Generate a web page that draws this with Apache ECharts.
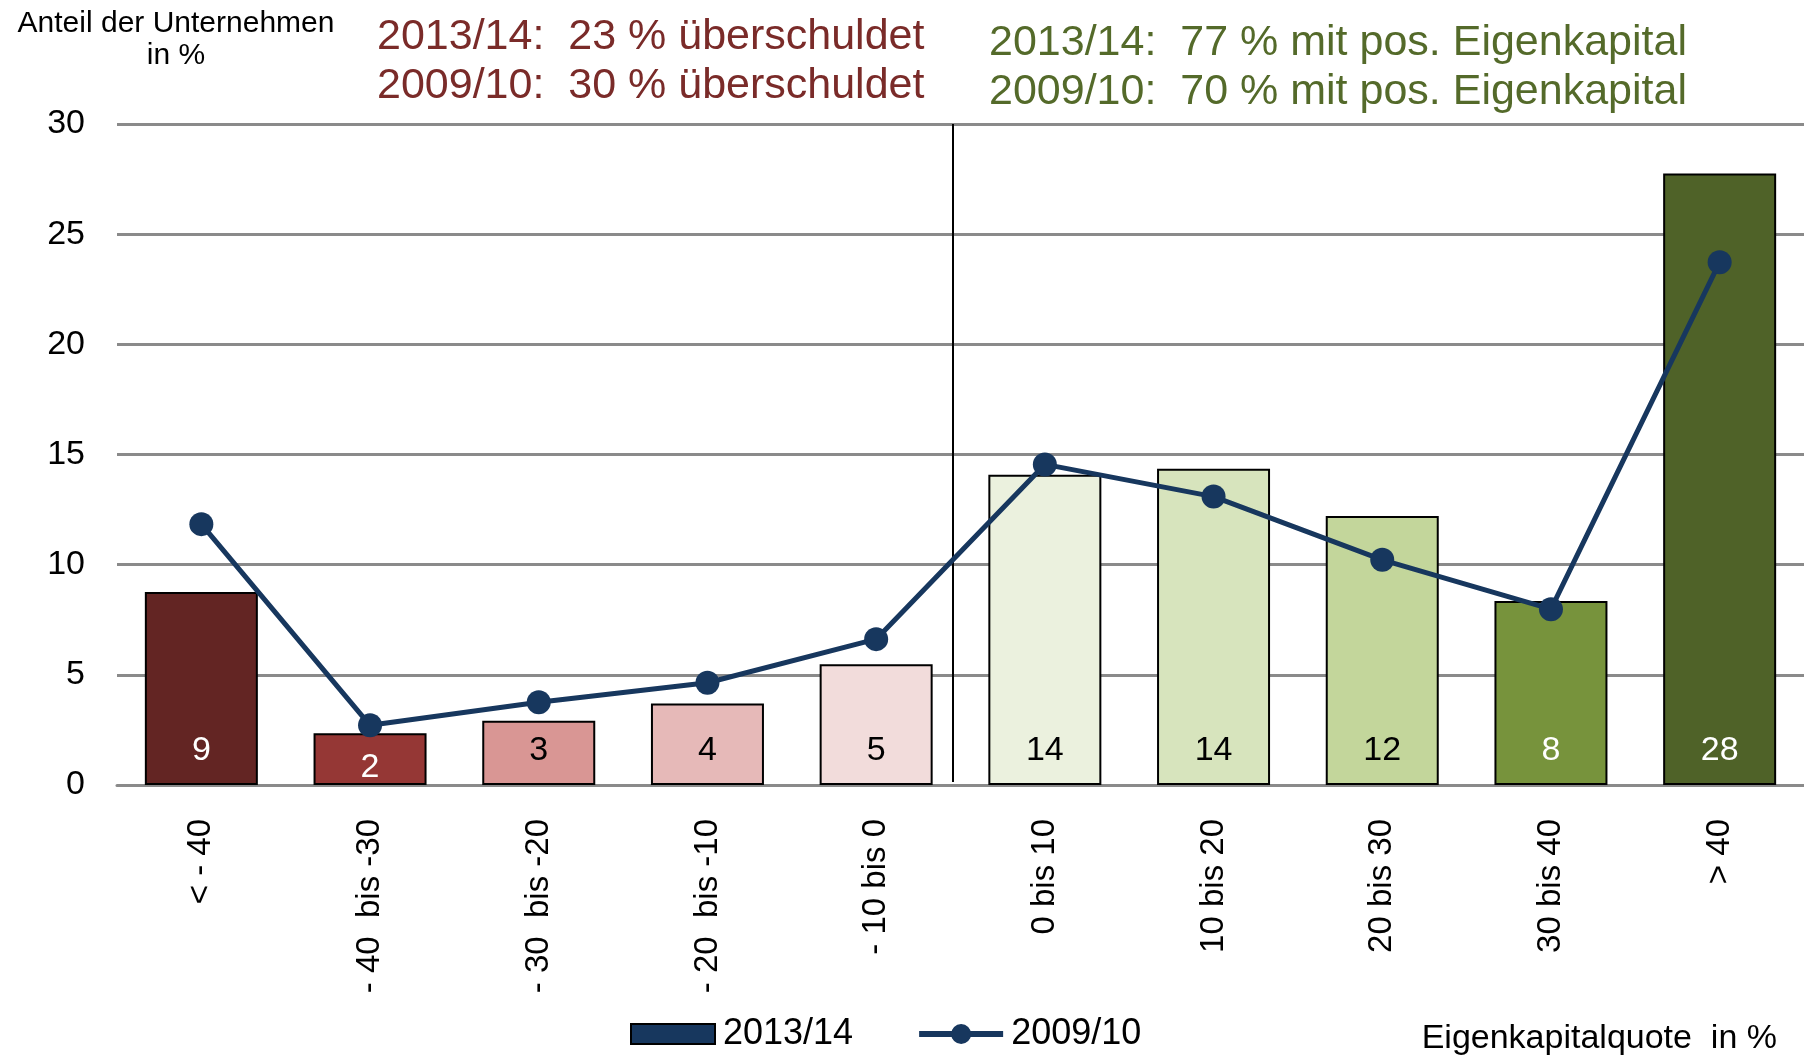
<!DOCTYPE html>
<html>
<head>
<meta charset="utf-8">
<script src="https://cdn.jsdelivr.net/npm/echarts@6/dist/echarts.min.js"></script>
<style>
html, body { margin: 0; padding: 0; background: #fff; }
#chart { width: 1804px; height: 1057px; }
</style>
</head>
<body>
<div id="chart"></div>
<script>
// Eigenkapitalquote classes
const categories = ["< - 40", "- 40  bis -30", "- 30  bis -20", "- 20  bis -10", "- 10 bis 0",
    "0 bis 10", "10 bis 20", "20 bis 30", "30 bis 40", "> 40"]
// share of companies in %, 2013/14 (bars) and 2009/10 (line)
const share1314 = [8.76, 2.35, 2.92, 3.70, 5.48, 14.08, 14.35, 12.21, 8.35, 27.75]
const share0910 = [11.84, 2.71, 3.76, 4.64, 6.62, 14.55, 13.09, 10.22, 7.98, 23.73]
const redNotes = ["2013/14:  23 % überschuldet", "2009/10:  30 % überschuldet"]
const greenNotes = ["2013/14:  77 % mit pos. Eigenkapital", "2009/10:  70 % mit pos. Eigenkapital"]

const barColors = ["#632523", "#953735", "#D99694", "#E6B9B8", "#F2DCDB",
    "#EBF1DE", "#D7E4BD", "#C3D69B", "#77933C", "#4F6228"]
const labelColors = ["#fff", "#fff", "#000", "#000", "#000", "#000", "#000", "#000", "#fff", "#fff"]
const font = "'Liberation Sans', Arial, sans-serif"
// legend icon: thick line with a dot in the middle (all parts clockwise so nothing is cut out)
const lineIcon = "path://M0,7H84V13H0Z M32,10a10,10 0 1,1 20,0a10,10 0 1,1 -20,0Z"

var myChart = echarts.init(document.getElementById("chart"))

myChart.setOption({
    animation: false,
    textStyle: { fontFamily: font },
    title: {
        text: "Anteil der Unternehmen\nin %",
        left: 176,
        top: 8,
        padding: 0,
        textAlign: "center",
        textStyle: { fontSize: 30, lineHeight: 32, fontWeight: "normal", color: "#000", fontFamily: font },
    },
    grid: { left: 117, right: 0, top: 124, bottom: 272, containLabel: false },
    legend: {
        left: 630,
        top: 1016,
        padding: 0,
        itemWidth: 84,
        itemHeight: 20,
        itemGap: 66,
        textStyle: { fontSize: 36, color: "#000", fontFamily: font, padding: [0, 0, 0, 3] },
        data: [
            { name: "2013/14", icon: "rect" },
            { name: "2009/10", icon: lineIcon },
        ],
    },
    xAxis: {
        type: "category",
        data: categories,
        axisTick: { show: false },
        axisLine: { lineStyle: { color: "#8A8A8A", width: 3 } },
        axisLabel: { rotate: 90, interval: 0, margin: 34, fontSize: 33, color: "#000", fontFamily: font },
    },
    yAxis: {
        type: "value",
        min: 0,
        max: 30,
        interval: 5,
        axisLine: { show: false },
        axisTick: { show: false },
        splitLine: { lineStyle: { color: "#8A8A8A", width: 3 } },
        axisLabel: { margin: 32, fontSize: 34, color: "#000", fontFamily: font },
    },
    series: [
        {
            name: "2013/14",
            type: "bar",
            barWidth: 113,
            itemStyle: { color: "#17375E", borderColor: "#000", borderWidth: 2 },
            label: {
                show: true,
                position: "insideBottom",
                distance: 17,
                fontSize: 34,
                fontFamily: font,
                formatter: (p) => Math.round(p.value),
            },
            data: share1314.map((v, i) => ({
                value: v,
                itemStyle: { color: barColors[i] },
                label: { color: labelColors[i], distance: v < 2.5 ? 0 : 17 },
            })),
        },
        {
            name: "2009/10",
            type: "line",
            z: 5,
            symbol: "circle",
            symbolSize: 24,
            itemStyle: { color: "#17375E" },
            lineStyle: { color: "#17375E", width: 5 },
            data: share0910,
        },
    ],
    graphic: [
        {
            id: "red",
            type: "text",
            x: 377,
            y: 13,
            style: { text: redNotes.join("\n"), fontSize: 43, lineHeight: 49, fontFamily: font, fill: "#7A2B29" },
        },
        {
            id: "green",
            type: "text",
            x: 989,
            y: 19,
            style: { text: greenNotes.join("\n"), fontSize: 43, lineHeight: 49, fontFamily: font, fill: "#546A2A" },
        },
        {
            id: "xname",
            type: "text",
            x: 1777,
            y: 1022,
            style: { text: "Eigenkapitalquote  in %", align: "right", fontSize: 34, fontFamily: font, fill: "#000" },
        },
    ],
})

// vertical divider between negative and positive equity
const xa = myChart.convertToPixel({ xAxisIndex: 0 }, 4)
const xb = myChart.convertToPixel({ xAxisIndex: 0 }, 5)
const yTop = myChart.convertToPixel({ yAxisIndex: 0 }, 30)
const yBot = myChart.convertToPixel({ yAxisIndex: 0 }, 0)
const xd = Math.round((xa + xb) / 2) - 8
myChart.setOption({
    graphic: [
        {
            id: "divider",
            type: "line",
            z: 1,
            shape: { x1: xd, y1: yTop, x2: xd, y2: yBot - 3 },
            style: { stroke: "#000", lineWidth: 2 },
        },
    ],
})
</script>
</body>
</html>
